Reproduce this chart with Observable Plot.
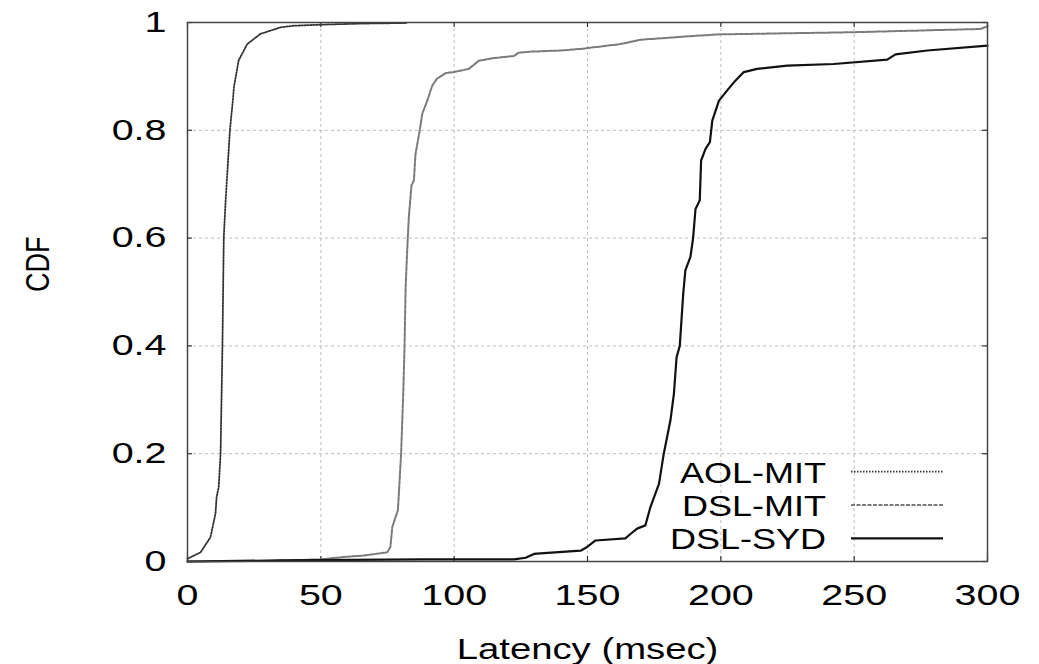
<!DOCTYPE html>
<html>
<head>
<meta charset="utf-8">
<script src="https://cdn.jsdelivr.net/npm/d3@7"></script>
<script src="https://cdn.jsdelivr.net/npm/@observablehq/plot@0.6"></script>
<style>
  html, body { margin: 0; padding: 0; background: #fff; }
  #chart svg { font-family: "Liberation Sans", Arial, sans-serif; }
</style>
</head>
<body>
<div id="chart"></div>
<script>
// ---- data ----
const seriesNames = ["AOL-MIT", "DSL-MIT", "DSL-SYD"];

const aolX = [0, 4.9, 8.6, 10.5, 10.9, 11.7, 12.4, 13.1, 13.6, 14.3, 15.9, 17.0, 17.4, 19.2, 22.4, 27.4, 34.9, 39.7, 50, 65, 82];
const aolY = [0.005, 0.017, 0.045, 0.089, 0.119, 0.138, 0.2, 0.4, 0.6, 0.67, 0.8, 0.855, 0.88, 0.93, 0.96, 0.979, 0.991, 0.994, 0.996, 0.998, 0.999];

const dslMitX = [0, 30, 50, 59.9, 66.1, 74.9, 76.1, 76.8, 78, 78.9, 79.2, 80.1, 80.9, 81.4, 81.8, 82.6, 83, 84, 84.9, 85.5, 87.1, 88, 89.9, 91.8, 93.6, 96.8, 99.9, 105.5, 109.2, 114.9, 122.4, 124.2, 128.6, 140, 147.4, 162.4, 169.9, 192.4, 199.9, 249.9, 297.4, 300];
const dslMitY = [0, 0.001, 0.004, 0.009, 0.011, 0.017, 0.027, 0.064, 0.082, 0.095, 0.12, 0.2, 0.311, 0.4, 0.509, 0.6, 0.639, 0.698, 0.707, 0.756, 0.8, 0.83, 0.855, 0.883, 0.896, 0.906, 0.908, 0.914, 0.929, 0.934, 0.938, 0.944, 0.946, 0.948, 0.951, 0.96, 0.968, 0.976, 0.978, 0.982, 0.988, 0.993];

const dslSydX = [0, 35, 88.6, 122.4, 126.8, 129.9, 132.4, 147.4, 149.9, 153, 164.2, 166.1, 168.6, 171.7, 173.6, 176.8, 178.6, 180.1, 181.1, 182.4, 183.4, 184.6, 185.9, 186.7, 188.6, 189.6, 190.5, 192.1, 192.6, 194.3, 195.9, 196.8, 199.3, 202.4, 204.9, 208.6, 213.6, 224.9, 242.4, 262.4, 265.5, 277.4, 300];
const dslSydY = [0, 0.002, 0.004, 0.004, 0.007, 0.014, 0.015, 0.02, 0.027, 0.039, 0.043, 0.051, 0.061, 0.067, 0.101, 0.144, 0.2, 0.237, 0.262, 0.311, 0.379, 0.4, 0.497, 0.54, 0.565, 0.6, 0.654, 0.67, 0.744, 0.766, 0.778, 0.818, 0.855, 0.874, 0.889, 0.908, 0.914, 0.92, 0.923, 0.931, 0.941, 0.948, 0.957];

const xTicks = [0, 50, 100, 150, 200, 250, 300];
const yTicks = [0, 0.2, 0.4, 0.6, 0.8, 1];
const xLabel = "Latency (msec)";
const yLabel = "CDF";

// ---- build tables ----
const toRows = (xs, ys) => xs.map((x, i) => ({x, y: ys[i]}));
const aol = toRows(aolX, aolY);
const dslMit = toRows(dslMitX, dslMitY);
const dslSyd = toRows(dslSydX, dslSydY);

const styles = [
  {stroke: "#333333", strokeWidth: 1.8, strokeDasharray: "1.5,1.5"},
  {stroke: "#7a7a7a", strokeWidth: 2, strokeDasharray: "4,1.5"},
  {stroke: "#111111", strokeWidth: 2.2, strokeDasharray: null}
];

const W = 1039, H = 664;
const mT = 22, mR = 52, mB = 103, mL = 187;
const plotW = W - mL - mR, plotH = H - mT - mB;
const tick = 5;
const FS = 29;       // font size

const legend = (index, scales, values, dims) => {
  const g = d3.create("svg:g");
  const right = dims.width - dims.marginRight;
  const bottom = dims.height - dims.marginBottom;
  seriesNames.forEach((name, i) => {
    const y = bottom - 89.3 + i * 33.3;
    g.append("text")
      .attr("class", "leg")
      .attr("x", right - 161).attr("y", y)
      .attr("text-anchor", "end").attr("dy", "0.36em")
      .attr("font-size", FS + 1).attr("fill", "#000")
      .text(name);
    const st = styles[i];
    const ln = g.append("line")
      .attr("x1", right - 136).attr("x2", right - 44)
      .attr("y1", y).attr("y2", y)
      .attr("stroke", st.stroke).attr("stroke-width", st.strokeWidth);
    if (st.strokeDasharray) ln.attr("stroke-dasharray", st.strokeDasharray);
  });
  return g.node();
};

const chart = Plot.plot({
  width: W, height: H,
  marginTop: mT, marginRight: mR, marginBottom: mB, marginLeft: mL,
  style: {background: "#fff", fontFamily: "Liberation Sans, Arial, sans-serif"},
  x: {domain: [0, 300], label: null},
  y: {domain: [0, 1], label: null},
  marks: [
    Plot.gridX(xTicks.slice(1, -1), {stroke: "#bdbdbd", strokeOpacity: 1, strokeWidth: 1, strokeDasharray: "3,3"}),
    Plot.gridY(yTicks.slice(1, -1), {stroke: "#bdbdbd", strokeOpacity: 1, strokeWidth: 1, strokeDasharray: "3,3"}),
    // inward ticks on all four sides
    Plot.ruleX(xTicks, {x: d => d, insetTop: plotH - tick, stroke: "#333", strokeWidth: 1.2}),
    Plot.ruleX(xTicks, {x: d => d, insetBottom: plotH - tick, stroke: "#333", strokeWidth: 1.2}),
    Plot.ruleY(yTicks, {y: d => d, insetRight: plotW - tick, stroke: "#333", strokeWidth: 1.2}),
    Plot.ruleY(yTicks, {y: d => d, insetLeft: plotW - tick, stroke: "#333", strokeWidth: 1.2}),
    Plot.axisX(xTicks, {tickSize: 0, tickPadding: 23, fontSize: FS, tickFormat: d => String(d), label: null, className: "tk"}),
    Plot.axisY(yTicks, {tickSize: 0, tickPadding: 21, fontSize: FS, tickFormat: d => String(d), label: null, className: "tk"}),
    Plot.line(aol, {x: "x", y: "y", ...styles[0]}),
    Plot.line(dslMit, {x: "x", y: "y", ...styles[1]}),
    Plot.line(dslSyd, {x: "x", y: "y", ...styles[2]}),
    Plot.frame({stroke: "#444", strokeWidth: 1.5}),
    Plot.text([xLabel], {text: d => d, frameAnchor: "bottom", dy: 97, fontSize: FS, fill: "#000", className: "xlab"}),
    Plot.text([yLabel], {text: d => d, frameAnchor: "left", dx: -149, rotate: -90, fontSize: 27, fill: "#000", className: "ylab"}),
    legend
  ]
});
document.getElementById("chart").appendChild(chart);

// emulate the horizontally wide font of the reference
function stretch(selector, k) {
  chart.querySelectorAll(selector).forEach(t => {
    const len = t.getComputedTextLength();
    if (len > 0) {
      t.setAttribute("textLength", (len * k).toFixed(2));
      t.setAttribute("lengthAdjust", "spacingAndGlyphs");
    }
  });
}
stretch(".tk text", 1.36);
stretch(".xlab text", 1.32);
stretch("text.leg", 1.2);
// rotated y label: widen its glyph height (screen-horizontal)
chart.querySelectorAll(".ylab text").forEach(t => {
  const tr = t.getAttribute("transform") || "";
  t.setAttribute("transform", tr + " scale(1,1.25)");
});
</script>
</body>
</html>
